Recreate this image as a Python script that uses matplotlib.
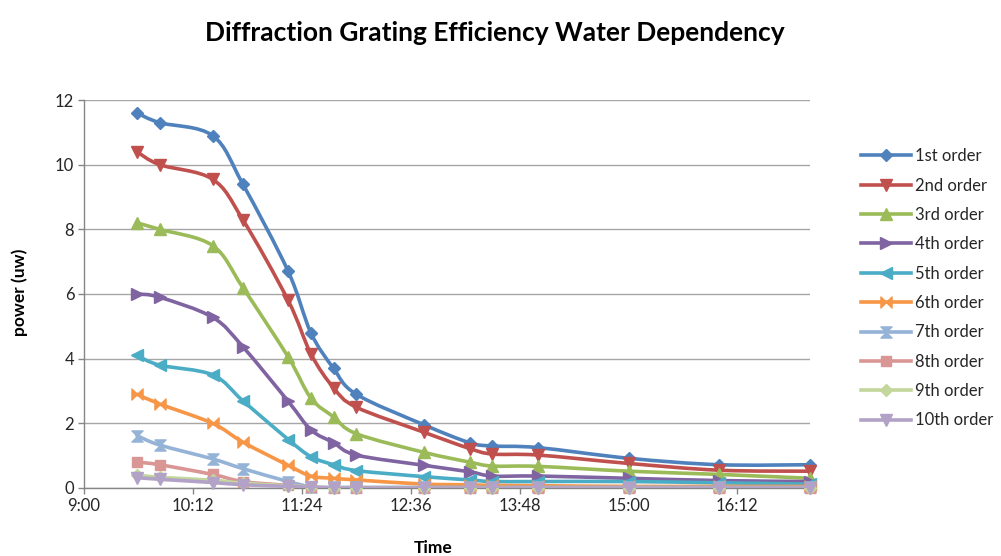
import numpy as np
import matplotlib
matplotlib.use("Agg")
import matplotlib.pyplot as plt
from matplotlib.path import Path
from matplotlib.patches import PathPatch
from matplotlib.lines import Line2D

# ---------------- data ----------------
times = ["9:35", "9:50", "10:25", "10:45", "11:15", "11:30", "11:45", "12:00",
         "12:45", "13:15", "13:30", "14:00", "15:00", "16:00", "17:00"]

order1 = [11.6, 11.3, 10.9, 9.4, 6.7, 4.8, 3.7, 2.9, 1.95, 1.4, 1.3, 1.25, 0.92, 0.72, 0.72]
order2 = [10.4, 10.0, 9.55, 8.3, 5.8, 4.15, 3.1, 2.5, 1.72, 1.22, 1.05, 1.02, 0.76, 0.55, 0.52]
order3 = [8.2, 8.0, 7.5, 6.2, 4.05, 2.78, 2.2, 1.68, 1.1, 0.8, 0.68, 0.67, 0.52, 0.42, 0.3]
order4 = [6.0, 5.9, 5.28, 4.37, 2.68, 1.8, 1.4, 1.02, 0.7, 0.5, 0.37, 0.37, 0.3, 0.23, 0.2]
order5 = [4.1, 3.8, 3.5, 2.7, 1.5, 0.97, 0.72, 0.54, 0.35, 0.25, 0.2, 0.2, 0.2, 0.16, 0.12]
order6 = [2.9, 2.6, 2.0, 1.42, 0.7, 0.37, 0.3, 0.25, 0.12, 0.1, 0.08, 0.07, 0.05, 0.05, 0.05]
order7 = [1.62, 1.33, 0.9, 0.6, 0.2, 0.04, 0.02, 0.02, 0.02, 0.02, 0.02, 0.02, 0.02, 0.02, 0.02]
order8 = [0.8, 0.72, 0.42, 0.2, 0.08, 0.03, 0.0, 0.0, 0.0, 0.0, 0.0, 0.0, 0.0, 0.0, 0.0]
order9 = [0.4, 0.33, 0.24, 0.15, 0.07, 0.03, 0.0, 0.0, 0.0, 0.0, 0.0, 0.0, 0.0, 0.0, 0.0]
order10 = [0.32, 0.27, 0.17, 0.1, 0.05, 0.02, 0.0, 0.0, 0.0, 0.0, 0.0, 0.0, 0.0, 0.0, 0.0]

series_labels = ["1st order", "2nd order", "3rd order", "4th order", "5th order",
                 "6th order", "7th order", "8th order", "9th order", "10th order"]
series_values = [order1, order2, order3, order4, order5,
                 order6, order7, order8, order9, order10]

xtick_labels = ["9:00", "10:12", "11:24", "12:36", "13:48", "15:00", "16:12"]
yticks = [0, 2, 4, 6, 8, 10, 12]

# ---------------- styles ----------------
colors = ["#4F81BD", "#C0504D", "#9BBB59", "#8064A2", "#4BACC6",
          "#F79646", "#95B3D7", "#D99694", "#C3D69B", "#B2A2C7"]

bowtie = Path([(-1, -1), (-1, 1), (0, 0), (-1, -1), (1, -1), (1, 1), (0, 0), (1, -1)],
              [Path.MOVETO, Path.LINETO, Path.LINETO, Path.CLOSEPOLY,
               Path.MOVETO, Path.LINETO, Path.LINETO, Path.CLOSEPOLY])
hourglass = Path([(-1, 1), (1, 1), (0, 0), (-1, 1), (-1, -1), (1, -1), (0, 0), (-1, -1)],
                 [Path.MOVETO, Path.LINETO, Path.LINETO, Path.CLOSEPOLY,
                  Path.MOVETO, Path.LINETO, Path.LINETO, Path.CLOSEPOLY])
markers = ["D", "v", "^", ">", "<", bowtie, hourglass, "s", "D", "v"]
msizes = [6.5, 8, 8, 8, 8, 8, 8, 7.5, 6.5, 8]

FONT = "Lato"
plt.rcParams["font.family"] = [FONT, "DejaVu Sans"]


def to_min(t):
    h, m = t.split(":")
    return int(h) * 60 + int(m)


def smooth_path(xs, ys):
    pts = np.column_stack([xs, ys]).astype(float)
    n = len(pts)
    verts = [pts[0]]
    codes = [Path.MOVETO]
    for i in range(n - 1):
        p0 = pts[i - 1] if i > 0 else pts[i]
        p1 = pts[i]
        p2 = pts[i + 1]
        p3 = pts[i + 2] if i + 2 < n else pts[i + 1]
        c1 = p1 + (p2 - p0) / 6.0
        c2 = p2 - (p3 - p1) / 6.0
        verts += [c1, c2, p2]
        codes += [Path.CURVE4] * 3
    return Path(verts, codes)


x = np.array([to_min(t) for t in times])
xticks = [to_min(t) for t in xtick_labels]

fig = plt.figure(figsize=(10.01, 5.56), dpi=100)
ax = fig.add_axes([84 / 1001, 1 - 488 / 556, 726 / 1001, 388 / 556])

lw = 2.6
handles = []
for i, (lab, vals) in enumerate(zip(series_labels, series_values)):
    c = colors[i]
    z = 3 + i * 0.1
    patch = PathPatch(smooth_path(x, vals), facecolor="none", edgecolor=c,
                      lw=lw, capstyle="round", joinstyle="round", zorder=z)
    ax.add_patch(patch)
    ax.plot(x, vals, linestyle="none", marker=markers[i], markersize=msizes[i],
            color=c, markeredgecolor=c, clip_on=False, zorder=z + 0.05)
    handles.append(Line2D([], [], color=c, lw=lw, marker=markers[i],
                          markersize=msizes[i], markeredgecolor=c))

ax.set_xlim(to_min("9:00"), to_min("17:00"))
ax.set_ylim(0, 12)
ax.set_xticks(xticks)
ax.set_xticklabels(xtick_labels)
ax.set_yticks(yticks)
ax.set_yticklabels([str(v) for v in yticks])

ax.yaxis.grid(True, color="#A6A6A6", lw=1.0)
ax.set_axisbelow(True)
for s in ["top", "right"]:
    ax.spines[s].set_visible(False)
for s in ["left", "bottom"]:
    ax.spines[s].set_color("#868686")
    ax.spines[s].set_linewidth(1.0)
ax.tick_params(axis="both", colors="#868686", labelcolor="#262626",
               labelsize=12, length=4, width=1, direction="out")
ax.tick_params(axis="x", pad=3)
ax.tick_params(axis="y", pad=3)

fig.text(495 / 1001, 1 - 33 / 556, "Diffraction Grating Efficiency Water Dependency",
         ha="center", va="center", fontsize=19, fontweight="bold", color="#000000")
fig.text(20 / 1001, 1 - 292 / 556, "power (uw)", rotation=90, ha="center", va="center",
         fontsize=12.5, fontweight="bold", color="#000000")
fig.text(433 / 1001, 1 - 548 / 556, "Time", ha="center", va="center",
         fontsize=12.5, fontweight="bold", color="#000000")

fig.legend(handles, series_labels, loc="upper left",
           bbox_to_anchor=(853 / 1001, 1 - 140 / 556), frameon=False,
           fontsize=12, handlelength=3.0, handletextpad=0.2,
           labelspacing=0.8, borderpad=0, labelcolor="#262626")

fig.savefig("out.png", dpi=100)
